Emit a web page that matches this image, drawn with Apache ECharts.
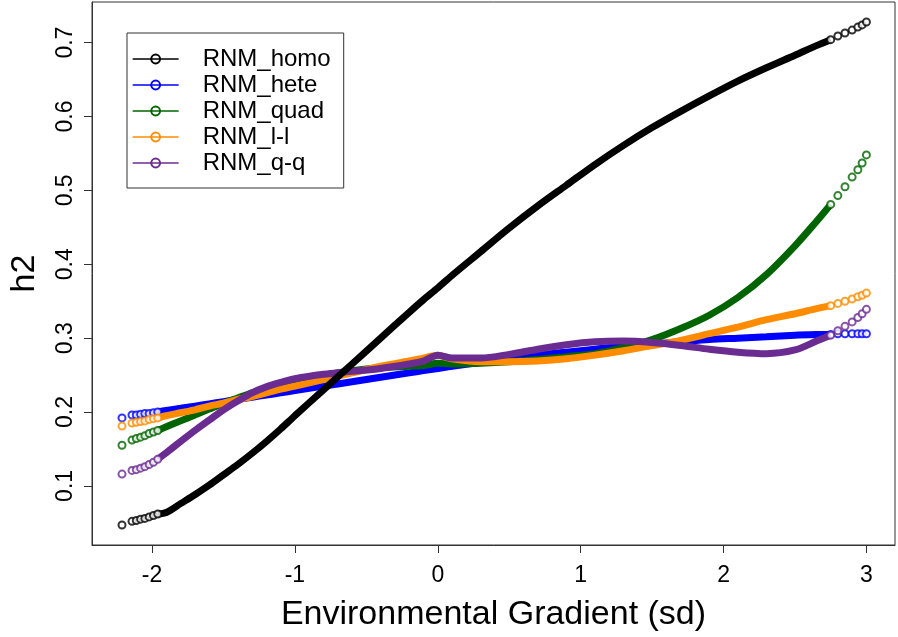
<!DOCTYPE html>
<html>
<head>
<meta charset="utf-8">
<script src="https://cdn.jsdelivr.net/npm/echarts@6/dist/echarts.min.js"></script>
<style>
html,body{margin:0;padding:0;background:#fff;}
#chart{width:898px;height:637px;}
</style>
</head>
<body>
<div id="chart"></div>
<script>
// ---- data ----
const seriesNames = ['RNM_homo', 'RNM_hete', 'RNM_quad', 'RNM_l-l', 'RNM_q-q'];
const xTicks = [-2, -1, 0, 1, 2, 3];
const yTicks = [0.1, 0.2, 0.3, 0.4, 0.5, 0.6, 0.7];

const leftX  = [-2.21, -2.14, -2.11, -2.08, -2.05, -2.02, -1.99, -1.96];
const midX   = [-1.9, -1.8, -1.7, -1.6, -1.5, -1.4, -1.3, -1.2, -1.1, -1.0, -0.8, -0.6, -0.4, -0.2, -0.1,
                0, 0.1, 0.3, 0.5, 0.7, 0.9, 1.1, 1.3, 1.5, 1.7, 1.9, 2.1, 2.3, 2.5, 2.65];
const rightX = [2.75, 2.8, 2.85, 2.9, 2.94, 2.97, 3.0];

const homoLeft  = [0.047, 0.052, 0.053, 0.055, 0.056, 0.058, 0.060, 0.062];
const homoMid   = [0.064, 0.076, 0.088, 0.101, 0.115, 0.129, 0.144, 0.160, 0.177, 0.195, 0.230, 0.265, 0.300, 0.335, 0.352,
                   0.368, 0.385, 0.417, 0.449, 0.479, 0.507, 0.535, 0.561, 0.585, 0.607, 0.628, 0.648, 0.666, 0.683, 0.696];
const homoRight = [0.704, 0.709, 0.713, 0.717, 0.721, 0.724, 0.728];

const heteLeft  = [0.192, 0.196, 0.196, 0.197, 0.198, 0.198, 0.199, 0.200];
const heteMid   = [0.202, 0.205, 0.208, 0.211, 0.214, 0.217, 0.220, 0.223, 0.226, 0.229, 0.235, 0.241, 0.247, 0.253, 0.256,
                   0.259, 0.262, 0.267, 0.272, 0.277, 0.281, 0.285, 0.289, 0.292, 0.295, 0.298, 0.300, 0.302, 0.304, 0.305];
const heteRight = [0.305, 0.306, 0.306, 0.306, 0.306, 0.306, 0.306];

const quadLeft  = [0.155, 0.162, 0.164, 0.166, 0.168, 0.171, 0.173, 0.175];
const quadMid   = [0.180, 0.188, 0.196, 0.204, 0.212, 0.219, 0.226, 0.232, 0.238, 0.243, 0.250, 0.256, 0.260, 0.262, 0.263,
                   0.266, 0.265, 0.266, 0.268, 0.271, 0.275, 0.279, 0.287, 0.298, 0.313, 0.331, 0.355, 0.386, 0.425, 0.458];
const quadRight = [0.481, 0.493, 0.505, 0.518, 0.528, 0.537, 0.548];

const llLeft  = [0.181, 0.185, 0.186, 0.187, 0.188, 0.190, 0.191, 0.192];
const llMid   = [0.195, 0.199, 0.203, 0.208, 0.212, 0.217, 0.221, 0.226, 0.231, 0.235, 0.244, 0.253, 0.262, 0.269, 0.273,
                 0.277, 0.272, 0.268, 0.268, 0.269, 0.272, 0.277, 0.283, 0.290, 0.297, 0.306, 0.315, 0.325, 0.333, 0.340];
const llRight = [0.344, 0.347, 0.350, 0.353, 0.356, 0.358, 0.361];

const qqLeft  = [0.116, 0.121, 0.122, 0.124, 0.126, 0.129, 0.132, 0.136];
const qqMid   = [0.145, 0.160, 0.175, 0.189, 0.203, 0.215, 0.226, 0.234, 0.240, 0.245, 0.251, 0.255, 0.259, 0.265, 0.269,
                 0.277, 0.273, 0.273, 0.278, 0.285, 0.291, 0.295, 0.296, 0.294, 0.290, 0.285, 0.281, 0.279, 0.284, 0.296];
const qqRight = [0.304, 0.310, 0.316, 0.322, 0.328, 0.333, 0.339];

const colors = ['#000000', '#0000ff', '#006400', '#ff8c00', '#6a2c91'];
const groups = [
  [homoLeft, homoMid, homoRight],
  [heteLeft, heteMid, heteRight],
  [quadLeft, quadMid, quadRight],
  [llLeft, llMid, llRight],
  [qqLeft, qqMid, qqRight]
];

function pairs(xs, ys) { return xs.map((x, i) => [x, ys[i]]); }

const FONT = 'Liberation Sans, Arial, Helvetica, sans-serif';
const order = [1, 2, 3, 4, 0];
const lineSeries = [];
const dotSeries = [];
groups.forEach((g, k) => {
  const [L, M, R] = g;
  const lineData = [[leftX[leftX.length - 1], L[L.length - 1]]]
    .concat(pairs(midX, M))
    .concat([[rightX[0], R[0]]]);
  const z = 2 + order.indexOf(k);
  lineSeries[k] = {
    name: seriesNames[k],
    type: 'line',
    data: lineData,
    smooth: 0.3,
    showSymbol: false,
    symbol: 'circle',
    symbolSize: 9,
    color: colors[k],
    itemStyle: { color: 'rgba(255,255,255,0)', borderColor: colors[k], borderWidth: 1.6 },
    lineStyle: { color: colors[k], width: 7 },
    z: z,
    silent: true,
    animation: false
  };
  dotSeries.push({
    name: seriesNames[k],
    type: 'scatter',
    data: pairs(leftX, L).concat(pairs(rightX, R)),
    symbol: 'emptyCircle',
    symbolSize: 7,
    itemStyle: { color: colors[k], borderColor: colors[k], borderWidth: 1.2 },
    z: z,
    silent: true,
    animation: false
  });
});

const chart = echarts.init(document.getElementById('chart'), null, { renderer: 'canvas' });
chart.setOption({
  backgroundColor: '#ffffff',
  animation: false,
  textStyle: { fontFamily: FONT },
  grid: {
    left: 78, top: 2, width: 817, height: 543,
    show: true, borderColor: '#333', borderWidth: 1, backgroundColor: 'transparent'
  },
  legend: {
    data: seriesNames,
    orient: 'vertical',
    left: 127, top: 33,
    padding: [14, 13, 13, 5],
    itemGap: 2,
    itemWidth: 46,
    itemHeight: 11,
    borderColor: '#333',
    borderWidth: 1,
    backgroundColor: '#fff',
    lineStyle: { width: 1.3 },
    textStyle: { fontSize: 24, color: '#000', fontFamily: FONT, padding: [0, 0, 0, 19] },
    selectedMode: false
  },
  xAxis: {
    type: 'value',
    min: -2.42, max: 3.2,
    axisLine: { show: true, onZero: false, lineStyle: { color: '#333' } },
    axisTick: { show: true, customValues: xTicks, length: 8, lineStyle: { color: '#333' } },
    axisLabel: { customValues: xTicks, fontSize: 23, color: '#000', margin: 19, fontFamily: FONT },
    splitLine: { show: false },
    name: 'Environmental Gradient (sd)',
    nameLocation: 'middle',
    nameGap: 53,
    nameTextStyle: { fontSize: 34, color: '#000', fontFamily: FONT }
  },
  yAxis: {
    type: 'value',
    min: 0.02, max: 0.755,
    axisLine: { show: true, onZero: false, lineStyle: { color: '#333' } },
    axisTick: { show: true, customValues: yTicks, length: 8, lineStyle: { color: '#333' } },
    axisLabel: { customValues: yTicks, fontSize: 23, color: '#000', rotate: 90, margin: 15, fontFamily: FONT,
                 formatter: v => v.toFixed(1) },
    splitLine: { show: false },
    name: 'h2',
    nameLocation: 'middle',
    nameGap: 50,
    nameTextStyle: { fontSize: 34, color: '#000', fontFamily: FONT }
  },
  series: lineSeries.concat(dotSeries)
});
</script>
</body>
</html>
